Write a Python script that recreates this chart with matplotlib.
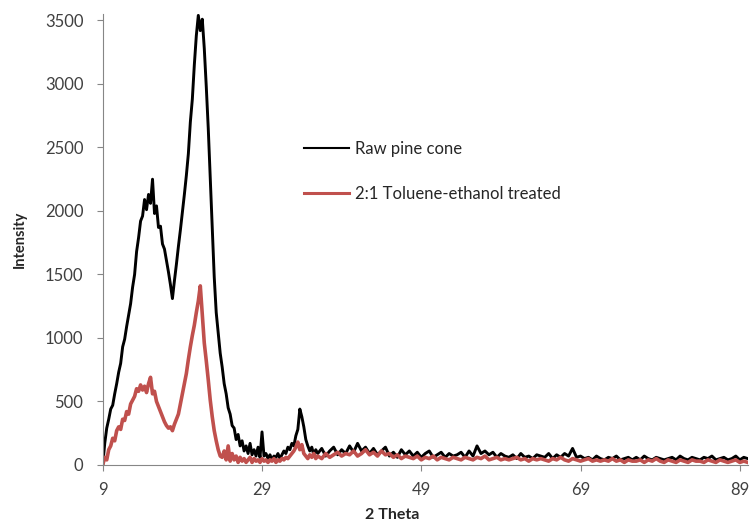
import numpy as np
import matplotlib
matplotlib.use("Agg")
import matplotlib.pyplot as plt

plt.rcParams['font.family'] = ['Lato', 'DejaVu Sans']

# 2 theta sampling: fine steps over the crystalline peaks, coarser over the flat tail
theta_fine_start, theta_fine_step = 9.0, 0.25
theta_tail_start, theta_tail_step = 36.0, 0.5

# Raw pine cone, 9.00 - 35.75 (0.25 steps, one row per degree)
raw_fine = [
    0, 170, 290, 360,
    440, 470, 560, 640,
    730, 800, 930, 990,
    1090, 1180, 1270, 1400,
    1500, 1680, 1790, 1920,
    1960, 2090, 2010, 2130,
    2060, 2250, 1980, 2040,
    1870, 1880, 1740, 1700,
    1610, 1520, 1420, 1310,
    1450, 1580, 1720, 1850,
    1990, 2130, 2280, 2450,
    2700, 2880, 3150, 3380,
    3540, 3420, 3510, 3280,
    2980, 2650, 2260, 1880,
    1480, 1200, 1040, 880,
    770, 640, 560, 450,
    400, 310, 290, 200,
    240, 150, 190, 110,
    150, 90, 170, 80,
    120, 70, 140, 60,
    260, 70, 90, 50,
    80, 40, 70, 60,
    90, 50, 80, 110,
    90, 140, 120, 170,
    150, 230, 280, 440,
    380, 300, 200, 150,
    110, 140, 80, 120,
]
# Raw pine cone, 36.0 - 90.0 (0.5 steps, one row per 4 degrees)
raw_tail = [
    90, 130, 70, 110, 140, 80, 120, 90,
    150, 100, 170, 110, 140, 90, 130, 80,
    110, 140, 70, 100, 60, 120, 80, 110,
    70, 100, 60, 90, 110, 60, 80, 100,
    60, 90, 70, 80, 100, 60, 110, 70,
    150, 90, 110, 80, 100, 60, 90, 70,
    60, 80, 50, 90, 60, 70, 50, 80,
    70, 60, 90, 50, 80, 60, 90, 70,
    130, 60, 70, 50, 60, 40, 70, 50,
    40, 60, 50, 70, 40, 50, 60, 40,
    60, 40, 70, 50, 40, 60, 50, 40,
    50, 60, 40, 70, 50, 40, 60, 50,
    40, 60, 50, 70, 40, 50, 60, 40,
    50, 70, 40, 60, 50,
]

# 2:1 Toluene-ethanol treated
treated_fine = [
    0, 60, 40, 120,
    150, 210, 190, 270,
    300, 280, 360, 350,
    420, 400, 480, 510,
    540, 600, 580, 630,
    590, 620, 570, 640,
    690, 560, 580, 500,
    460, 420, 380, 340,
    310, 290, 300, 270,
    320, 360, 400, 480,
    560, 640, 720, 830,
    930, 1020, 1100, 1200,
    1290, 1410, 1180, 960,
    820, 670, 510, 380,
    270, 190, 120, 70,
    60, 110, 40, 150,
    30, 90, 40, 70,
    20, 60, 30, 50,
    20, 40, 60, 20,
    50, 30, 40, 20,
    50, 30, 40, 20,
    40, 30, 50, 20,
    40, 30, 50, 40,
    60, 50, 70, 90,
    110, 140, 180, 120,
    160, 90, 70, 50,
    80, 60, 90, 50,
]
treated_tail = [
    70, 50, 90, 60, 80, 100, 70, 90,
    80, 110, 70, 90, 120, 80, 100, 70,
    110, 80, 90, 60, 80, 50, 70, 60,
    50, 70, 40, 60, 50, 70, 40, 60,
    50, 40, 60, 50, 40, 60, 50, 40,
    60, 50, 70, 40, 50, 60, 40, 50,
    40, 50, 60, 40, 50, 30, 50, 40,
    50, 40, 30, 50, 40, 60, 40, 30,
    50, 40, 30, 40, 50, 30, 40, 30,
    40, 30, 50, 30, 40, 20, 40, 30,
    30, 40, 20, 40, 30, 50, 30, 20,
    40, 30, 20, 40, 30, 20, 40, 30,
    30, 20, 40, 30, 20, 40, 30, 20,
    30, 40, 20, 30, 20,
]

theta = np.concatenate([
    theta_fine_start + theta_fine_step * np.arange(len(raw_fine)),
    theta_tail_start + theta_tail_step * np.arange(len(raw_tail)),
])
raw = np.array(raw_fine + raw_tail)
treated = np.array(treated_fine + treated_tail)

fig = plt.figure(figsize=(7.5, 5.23), dpi=100)
ax = fig.add_axes([0.137, 0.111, 0.860, 0.862])

ax.plot(theta, raw, color="black", linewidth=2.1, label="Raw pine cone")
ax.plot(theta, treated, color="#C0504D", linewidth=2.6, label="2:1 Toluene-ethanol treated")

ax.set_xlim(9, 90)
ax.set_ylim(0, 3550)
ax.set_xticks([9, 29, 49, 69, 89])
ax.set_yticks(range(0, 3501, 500))

for s in ["top", "right"]:
    ax.spines[s].set_visible(False)
for s in ["left", "bottom"]:
    ax.spines[s].set_color("#868686")
ax.tick_params(colors="#868686", labelcolor="#404040", labelsize=12, length=4)
ax.tick_params(axis="y", pad=10)
ax.tick_params(axis="x", pad=8)

ax.set_xlabel("2 Theta", fontsize=11.5, fontweight="bold", color="#262626")
ax.xaxis.set_label_coords(0.448, -0.096)
ax.set_ylabel("Intensity", fontsize=10.5, fontweight="bold", color="#262626")
ax.yaxis.set_label_coords(-0.118, 0.5)

leg = fig.legend(loc="upper left", bbox_to_anchor=(0.405, 0.73), frameon=False,
                 fontsize=12, handlelength=2.7, handletextpad=0.4, labelspacing=1.7,
                 borderpad=0, borderaxespad=0, labelcolor="#262626")
leg.get_lines()[0].set_linewidth(1.5)
leg.get_lines()[1].set_linewidth(2.2)

fig.savefig("out.png", dpi=100)
